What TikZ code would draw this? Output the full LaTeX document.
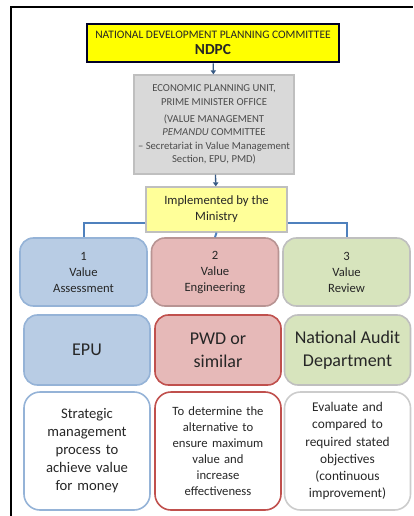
\documentclass[tikz,border=0pt]{standalone}
\usepackage{fontspec}
\setmainfont{Carlito}
\usetikzlibrary{arrows.meta}
\definecolor{ndpcyellow}{HTML}{FFFF00}
\definecolor{minyellow}{HTML}{FFFF99}
\definecolor{epugrey}{HTML}{D9D9D9}
\definecolor{vablue}{HTML}{B8CCE4}
\definecolor{vabluedark}{HTML}{95B3D7}
\definecolor{vepink}{HTML}{E6B9B8}
\definecolor{vered}{HTML}{C0504D}
\definecolor{vrgreen}{HTML}{D7E4BD}
\definecolor{linkblue}{HTML}{4F81BD}
\definecolor{txt}{HTML}{262626}
\tikzset{
  box/.style={draw, align=center, text=txt, inner sep=2pt},
  valuebox/.style={box, rounded corners=10pt, line width=1.2pt, minimum width=127*0.75pt, minimum height=68*0.75pt, font=\fontsize{9.5}{12}\selectfont},
  bodybox/.style={box, rounded corners=10pt, line width=1.2pt, minimum width=126*0.75pt, minimum height=70*0.75pt, font=\fontsize{13.5}{17}\selectfont},
  notebox/.style={box, rounded corners=12pt, line width=1.2pt, minimum width=126*0.75pt, minimum height=118*0.75pt, text width=110*0.75pt},
  link/.style={draw=linkblue, line width=1.5pt},
  down/.style={draw=linkblue!70!black, line width=1pt, -{Triangle[length=3pt,width=4pt]}}
}
\begin{document}
\begin{tikzpicture}[x=0.75pt,y=-0.75pt]
\useasboundingbox (0,0) rectangle (413,516);
% frame
\draw[line width=1.5pt] (11,516) -- (11,7) -- (413,7);
% top of the chain
\node[box, fill=ndpcyellow, draw=black!85!blue, line width=2pt, minimum width=252*0.75pt, minimum height=38*0.75pt, inner sep=1pt] (ndpc) at (213,43)
  {\fontsize{8.6}{9}\selectfont NATIONAL DEVELOPMENT PLANNING COMMITTEE\\[0.5pt]\fontsize{11.5}{13}\selectfont\bfseries NDPC};
\node[box, fill=epugrey, draw=black!25, line width=1pt, minimum width=160*0.75pt, minimum height=99*0.75pt, text=black!70, font=\fontsize{8}{10}\selectfont] (epu) at (214,124.5)
  {ECONOMIC PLANNING UNIT,\\PRIME MINISTER OFFICE\\[3pt](VALUE MANAGEMENT\\\textit{PEMANDU} COMMITTEE\\-- Secretariat in Value Management\\Section, EPU, PMD)};
\node[box, fill=minyellow, draw=black!25, line width=1pt, minimum width=141*0.75pt, minimum height=45*0.75pt, font=\fontsize{9.5}{12}\selectfont] (ministry) at (216.5,209.5)
  {Implemented by the\\Ministry};
% value boxes
\node[valuebox, fill=vablue, draw=vabluedark] (va) at (83.5,272) {1\\Value\\Assessment};
\node[valuebox, fill=vepink, draw=vepink!80!black] (ve) at (215,272) {2\\Value\\Engineering};
\node[valuebox, fill=vrgreen, draw=black!25] (vr) at (346.5,272) {3\\Value\\Review};
% who
\node[bodybox, fill=vablue, draw=vabluedark] (whoa) at (87,350) {EPU};
\node[bodybox, fill=vepink, draw=vered] (whoe) at (218,350) {PWD or\\similar};
\node[bodybox, fill=vrgreen, draw=black!25] (whor) at (347.5,350) {National Audit\\Department};
% what
\node[notebox, draw=vabluedark, font=\fontsize{11}{13.5}\selectfont] (whata) at (87,451) {Strategic\\management\\process to\\achieve value\\for money};
\node[notebox, draw=vered, font=\fontsize{9.5}{12}\selectfont] (whate) at (218,451) {To determine the\\alternative to\\ensure maximum\\value and\\increase\\effectiveness};
\node[notebox, draw=black!20, font=\fontsize{10}{12.8}\selectfont] (whatr) at (347.5,451) {Evaluate and\\compared to\\required stated\\objectives\\(continuous\\improvement)};
% connectors
\draw[down] (ndpc) -- (epu);
\draw[down] (epu) -- (ministry);
\draw[link] (ministry.south west) ++(0,-10) -| (va.north);
\draw[link] (ministry.south east) ++(0,-10) -| (vr.north);
\draw[link] (ministry.south) -- (ve.north);
\end{tikzpicture}
\end{document}
